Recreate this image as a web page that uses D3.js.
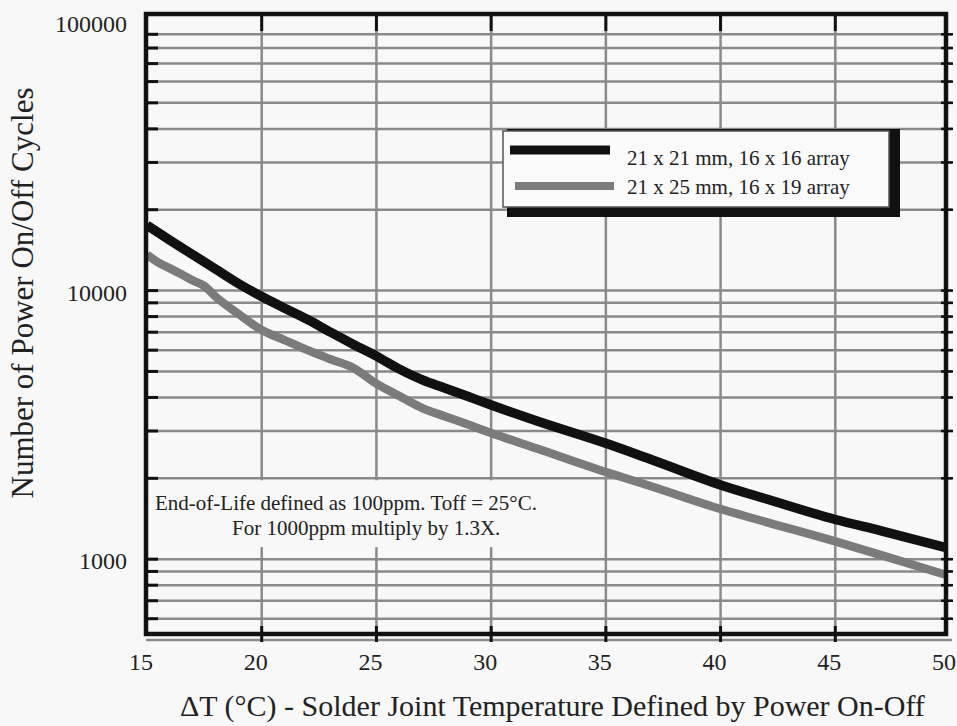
<!DOCTYPE html>
<html lang="en">
<head>
  <meta charset="UTF-8">
  <title>Power On/Off Cycles vs Solder Joint Temperature</title>
  <script src="https://d3js.org/d3.v7.min.js"></script>
  <style>
    body {
      margin: 0;
      background: #f8f8f8;
    }
    svg {
      display: block;
      font-family: "Liberation Serif", "Times New Roman", serif;
      fill: #222;
    }
  </style>
</head>
<body>
  <div id="chart"></div>

  <script>
    // 21 x 21 mm, 16 x 16 array
    const deltaT21 = [15, 16, 17, 18, 19, 20, 21, 22, 23, 24, 25, 26, 27, 28, 29, 30, 32, 35, 37, 40, 42, 45, 47, 50];
    const cycles21 = [17500, 15400, 13600, 12000, 10600, 9500, 8600, 7800, 7000, 6300, 5700, 5100, 4650, 4330, 4030, 3750, 3270, 2700, 2345, 1890, 1675, 1405, 1275, 1095];

    // 21 x 25 mm, 16 x 19 array
    const deltaT25 = [15, 15.5, 16, 16.5, 17, 17.5, 18, 19, 20, 21, 22, 23, 24, 25, 26, 27, 28, 29, 30, 32, 35, 37, 40, 42, 45, 47, 50];
    const cycles25 = [13600, 12700, 12100, 11500, 10900, 10400, 9470, 8170, 7130, 6540, 6000, 5550, 5150, 4500, 4050, 3650, 3400, 3170, 2950, 2580, 2110, 1865, 1537, 1374, 1164, 1035, 865];

    const seriesNames = ["21 x 21 mm, 16 x 16 array", "21 x 25 mm, 16 x 19 array"];
    const xTickValues = [15, 20, 25, 30, 35, 40, 45, 50];
    const yLabelValues = [1000, 10000, 100000];

    const w = 957;
    const h = 726;
    const frame = {left: 146, right: 946, top: 14, bottom: 634};
    const gridColor = "#8a8a8a";

    const svg = d3.select("#chart")
                  .append("svg")
                  .attr("width", w)
                  .attr("height", h);

    const xScale = d3.scaleLinear().domain([15, 50]).range([147, 950]);
    const yScale = d3.scaleLog().domain([500, 100000]).range([640, 22]);

    // horizontal grid (every 1-9 multiple), skipping the top decade line that sits under the frame
    const yGrid = yScale.ticks().filter(v => v < 100000);

    const grid = svg.append("g");
    grid.selectAll(".hgrid")
        .data(yGrid)
        .enter()
        .append("line")
        .attr("x1", frame.left)
        .attr("x2", frame.right + 6)
        .attr("y1", d => yScale(d))
        .attr("y2", d => yScale(d))
        .attr("stroke", gridColor)
        .attr("stroke-width", 2.5);

    // short black ticks at both ends
    grid.selectAll(".ltick")
        .data(yGrid.filter(v => yScale(v) < frame.bottom))
        .enter()
        .append("line")
        .attr("x1", frame.left + 2)
        .attr("x2", frame.left + 12)
        .attr("y1", d => yScale(d))
        .attr("y2", d => yScale(d))
        .attr("stroke", "#111")
        .attr("stroke-width", 3);
    grid.selectAll(".rtick")
        .data(yGrid.filter(v => yScale(v) < frame.bottom))
        .enter()
        .append("line")
        .attr("x1", frame.right - 5)
        .attr("x2", frame.right + 7)
        .attr("y1", d => yScale(d))
        .attr("y2", d => yScale(d))
        .attr("stroke", "#111")
        .attr("stroke-width", 2.5);

    const xGrid = xTickValues.filter(v => v > 15 && v < 50);
    grid.selectAll(".vgrid")
        .data(xGrid)
        .enter()
        .append("line")
        .attr("x1", d => xScale(d))
        .attr("x2", d => xScale(d))
        .attr("y1", frame.top)
        .attr("y2", frame.bottom + 8)
        .attr("stroke", gridColor)
        .attr("stroke-width", 2.5);

    // note box covers the grid
    const noteBox = svg.append("g");
    noteBox.append("rect")
           .attr("x", frame.left + 2)
           .attr("y", yScale(2000) + 2)
           .attr("width", xScale(35) - frame.left - 4)
           .attr("height", yScale(1000) - yScale(2000) - 14)
           .attr("fill", "#f8f8f8");
    noteBox.append("text")
           .attr("x", 155)
           .attr("y", 510)
           .style("font-size", "21px")
           .text("End-of-Life defined as 100ppm. Toff = 25°C.");
    noteBox.append("text")
           .attr("x", 232)
           .attr("y", 535)
           .style("font-size", "21px")
           .text("For 1000ppm multiply by 1.3X.");

    // vertical ticks at top and bottom
    grid.selectAll(".btick")
        .data(xGrid)
        .enter()
        .append("line")
        .attr("x1", d => xScale(d))
        .attr("x2", d => xScale(d))
        .attr("y1", frame.bottom - 8)
        .attr("y2", frame.bottom + 8)
        .attr("stroke", "#111")
        .attr("stroke-width", 3);
    svg.selectAll(".ttick")
        .data(xGrid)
        .enter()
        .append("line")
        .attr("x1", d => xScale(d))
        .attr("x2", d => xScale(d))
        .attr("y1", frame.top)
        .attr("y2", frame.top + 17)
        .attr("stroke", "#111")
        .attr("stroke-width", 3);

    // curves
    svg.append("clipPath")
       .attr("id", "plot-clip")
       .append("rect")
       .attr("x", frame.left)
       .attr("y", frame.top)
       .attr("width", frame.right - frame.left)
       .attr("height", frame.bottom - frame.top);

    const line = d3.line()
                   .x(d => xScale(d[0]))
                   .y(d => yScale(d[1]))
                   .curve(d3.curveMonotoneX);

    const series = [
      {pts: d3.zip(deltaT25, cycles25), color: "#7b7b7b", width: 8.5},
      {pts: d3.zip(deltaT21, cycles21), color: "#111", width: 9.5}
    ];

    svg.append("g")
       .attr("clip-path", "url(#plot-clip)")
       .selectAll("path")
       .data(series)
       .enter()
       .append("path")
       .attr("d", d => line(d.pts))
       .attr("fill", "none")
       .attr("stroke", d => d.color)
       .attr("stroke-width", d => d.width)
       .attr("stroke-linejoin", "round");

    // frame
    svg.append("rect")
       .attr("x", frame.left)
       .attr("y", frame.top)
       .attr("width", frame.right - frame.left)
       .attr("height", frame.bottom - frame.top)
       .attr("fill", "none")
       .attr("stroke", "#111")
       .attr("stroke-width", 4.5);

    // axis labels
    svg.selectAll(".xlabel")
       .data(xTickValues)
       .enter()
       .append("text")
       .attr("x", d => xScale(d) - 6)
       .attr("y", 670)
       .attr("text-anchor", "middle")
       .style("font-size", "24px")
       .text(d => d);

    svg.selectAll(".ylabel")
       .data(yLabelValues)
       .enter()
       .append("text")
       .attr("x", 127)
       .attr("y", d => yScale(d) + 10)
       .attr("text-anchor", "end")
       .style("font-size", "24px")
       .text(d => d);

    svg.append("text")
       .attr("x", 180)
       .attr("y", 716)
       .style("font-size", "30px")
       .text("ΔT (°C) - Solder Joint Temperature Defined by Power On-Off");

    svg.append("text")
       .attr("transform", "translate(33, 293) rotate(-90)")
       .attr("text-anchor", "middle")
       .style("font-size", "31px")
       .text("Number of Power On/Off Cycles");

    // legend with drop shadow
    const legend = svg.append("g");
    legend.append("rect")
          .attr("x", 507).attr("y", 129)
          .attr("width", 393).attr("height", 88)
          .attr("fill", "#111");
    legend.append("rect")
          .attr("x", 503).attr("y", 131)
          .attr("width", 386).attr("height", 76)
          .attr("fill", "#fafafa")
          .attr("stroke", "#555")
          .attr("stroke-width", 1.5);

    const legendRows = [
      {name: seriesNames[0], color: "#111", x1: 510, x2: 610, ly: 150, ty: 165, width: 9},
      {name: seriesNames[1], color: "#7b7b7b", x1: 515, x2: 614, ly: 186, ty: 194, width: 8}
    ];
    legend.selectAll(".lline")
          .data(legendRows)
          .enter()
          .append("line")
          .attr("x1", d => d.x1)
          .attr("x2", d => d.x2)
          .attr("y1", d => d.ly)
          .attr("y2", d => d.ly)
          .attr("stroke", d => d.color)
          .attr("stroke-width", d => d.width);
    legend.selectAll(".ltext")
          .data(legendRows)
          .enter()
          .append("text")
          .attr("x", 627)
          .attr("y", d => d.ty)
          .style("font-size", "21px")
          .text(d => d.name);
  </script>
</body>
</html>
